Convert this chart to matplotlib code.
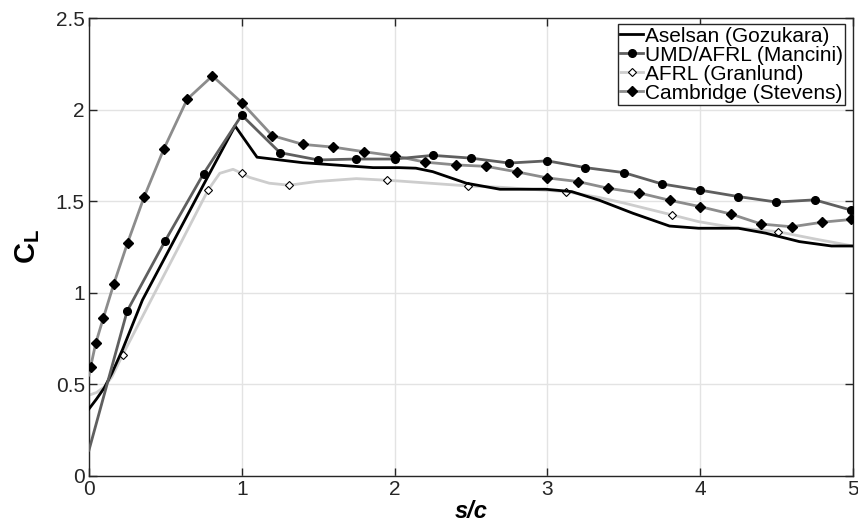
import numpy as np
import matplotlib.pyplot as plt

plt.rcParams['font.family'] = ['Liberation Sans', 'DejaVu Sans']
plt.rcParams['mathtext.fontset'] = 'custom'
plt.rcParams['mathtext.rm'] = 'Liberation Sans'
plt.rcParams['mathtext.bf'] = 'Liberation Sans:bold'
plt.rcParams['mathtext.it'] = 'Liberation Sans:italic'

# Aselsan (Gozukara) - solid black line, no markers
aselsan_x = [0.0, 0.05, 0.1, 0.15, 0.22, 0.35, 0.75, 0.956, 1.1, 1.4, 1.86, 2.03, 2.14, 2.25,
             2.47, 2.69, 2.99, 3.16, 3.34, 3.56, 3.8, 3.99, 4.25, 4.43, 4.65, 4.86, 5.0]
aselsan_y = [0.365, 0.42, 0.48, 0.56, 0.69, 0.96, 1.59, 1.911, 1.74, 1.71, 1.683, 1.683, 1.68, 1.661,
             1.598, 1.565, 1.565, 1.552, 1.505, 1.434, 1.364, 1.352, 1.352, 1.325, 1.279, 1.255, 1.255]

# UMD/AFRL (Mancini)
umd_x = [0.0, 0.25, 0.5, 0.75, 1.0, 1.25, 1.5, 1.75, 2.0, 2.25, 2.5, 2.75, 3.0,
         3.25, 3.5, 3.75, 4.0, 4.25, 4.5, 4.75, 4.985]
umd_y = [0.14, 0.90, 1.285, 1.65, 1.97, 1.765, 1.725, 1.73, 1.73, 1.75, 1.735, 1.708, 1.72,
         1.683, 1.656, 1.594, 1.56, 1.525, 1.495, 1.507, 1.452]

# AFRL (Granlund) - smooth curve, open diamonds at measured points
granlund_x = [0.0, 0.05, 0.1, 0.15, 0.22, 0.4, 0.6, 0.78, 0.856, 0.943, 1.0, 1.05, 1.18, 1.31,
              1.49, 1.75, 1.95, 2.03, 2.48, 2.69, 3.12, 3.34, 3.5, 3.815, 3.99, 4.21, 4.51,
              4.76, 5.0]
granlund_y = [0.44, 0.455, 0.485, 0.54, 0.66, 0.95, 1.27, 1.561, 1.652, 1.674, 1.652, 1.63, 1.598,
              1.587, 1.607, 1.623, 1.614, 1.61, 1.583, 1.576, 1.552, 1.52, 1.49, 1.425, 1.388,
              1.357, 1.333, 1.292, 1.255]
granlund_marks = [4, 7, 10, 13, 16, 18, 20, 23, 26]

# Cambridge (Stevens)
cam_x = [0.0, 0.011, 0.044, 0.094, 0.163, 0.253, 0.362, 0.49, 0.643, 0.808, 1.0, 1.2, 1.4, 1.6,
         1.8, 2.0, 2.2, 2.4, 2.6, 2.8, 3.0, 3.2, 3.4, 3.6, 3.8, 4.0, 4.2, 4.4, 4.6, 4.8, 4.99]
cam_y = [0.55, 0.596, 0.723, 0.862, 1.049, 1.273, 1.525, 1.785, 2.057, 2.184, 2.038, 1.858, 1.81,
         1.795, 1.77, 1.747, 1.713, 1.698, 1.69, 1.66, 1.627, 1.607, 1.57, 1.545, 1.505, 1.47,
         1.43, 1.375, 1.36, 1.385, 1.40]

fig = plt.figure(figsize=(8.58, 5.31), dpi=100)
ax = fig.add_axes([0.1037, 0.104, 0.8903, 0.862])

ax.plot(aselsan_x, aselsan_y, color='black', lw=2, label='Aselsan (Gozukara)', zorder=3)
ax.plot(umd_x, umd_y, color='#5f5f5f', lw=2, marker='o', ms=5.5, mfc='black', mec='black',
        markevery=list(range(1, len(umd_x))), label='UMD/AFRL (Mancini)', zorder=4)
ax.plot(granlund_x, granlund_y, color='#cdcdcd', lw=2, marker='D', ms=4, mfc='white', mec='black',
        mew=0.8, markevery=granlund_marks, label='AFRL (Granlund)', zorder=2)
ax.plot(cam_x, cam_y, color='#8c8c8c', lw=2, marker='D', ms=5.5, mfc='black', mec='black',
        markevery=list(range(1, len(cam_x))), label='Cambridge (Stevens)', zorder=3)

ax.set_xlim(0, 5)
ax.set_ylim(0, 2.5)
ax.set_xticks([0, 1, 2, 3, 4, 5])
ax.set_yticks([0, 0.5, 1, 1.5, 2, 2.5])
ax.set_xticklabels(['0', '1', '2', '3', '4', '5'])
ax.set_yticklabels(['0', '0.5', '1', '1.5', '2', '2.5'])
ax.grid(True, color='#e3e3e3', lw=1)
ax.set_axisbelow(True)
ax.tick_params(direction='in', length=6, width=1, labelsize=15, colors='#262626',
               top=True, right=True, pad=3)
for s in ax.spines.values():
    s.set_color('#262626')
    s.set_linewidth(1)

ax.set_xlabel('s/c', fontsize=17, fontweight='bold', fontstyle='italic', labelpad=1)
ax.set_ylabel('$\\mathbf{C_L}$', fontsize=21, labelpad=10)

leg = ax.legend(loc='upper right', bbox_to_anchor=(0.99, 0.986), fontsize=15,
                handlelength=1.1, handletextpad=0.1, labelspacing=0.0, borderpad=0.1,
                borderaxespad=0, fancybox=False, framealpha=1, edgecolor='#262626')
leg.get_frame().set_linewidth(1)

fig.savefig('out.png', dpi=100)
